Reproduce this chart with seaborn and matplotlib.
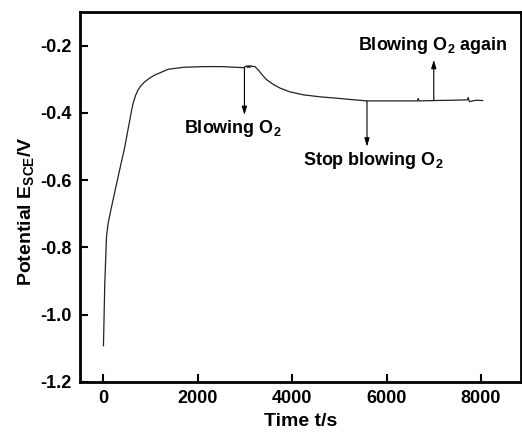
import matplotlib
matplotlib.use("Agg")
import matplotlib.pyplot as plt
import seaborn as sns
import pandas as pd

# ============================
# Open-circuit potential vs time
# ============================

time_s = [0, 28, 64, 98, 170, 310, 452, 558, 595, 629, 680, 735, 800, 877,
          980, 1089, 1372, 1700, 2115, 2500, 2964, 3020, 3040, 3060, 3080,
          3100, 3120, 3140, 3212, 3300, 3380, 3460, 3600, 3744, 3950, 4238,
          4600, 4947, 5250, 5584, 5900, 6294, 6660, 6673, 6686, 7002, 7400,
          7710, 7733, 7745, 7760, 7900, 8042]
potential = [-1.093, -0.908, -0.769, -0.729, -0.680, -0.590, -0.501, -0.421,
             -0.393, -0.371, -0.348, -0.331, -0.318, -0.307, -0.296, -0.287,
             -0.270, -0.264, -0.262, -0.262, -0.265, -0.262, -0.259, -0.265,
             -0.259, -0.265, -0.259, -0.261, -0.262, -0.275, -0.289, -0.301,
             -0.315, -0.326, -0.337, -0.346, -0.352, -0.356, -0.360, -0.364,
             -0.364, -0.364, -0.364, -0.357, -0.364, -0.363, -0.362, -0.361,
             -0.354, -0.362, -0.366, -0.362, -0.363]

ocp = pd.DataFrame({'Time': time_s, 'Potential': potential})

# ============================
# Plotting
# ============================

sns.set_style('ticks')
plt.rcParams['font.family'] = ['Liberation Sans', 'DejaVu Sans']
plt.rcParams['font.weight'] = 'bold'
plt.rcParams['text.color'] = 'black'
plt.rcParams['axes.labelcolor'] = 'black'
plt.rcParams['mathtext.fontset'] = 'custom'
plt.rcParams['mathtext.rm'] = 'Liberation Sans:bold'
plt.rcParams['mathtext.default'] = 'rm'

fig = plt.figure(figsize=(5.22, 4.34), dpi=100)
ax = fig.add_axes([0.153, 0.12, 0.845, 0.852])

sns.lineplot(data=ocp, x='Time', y='Potential', ax=ax,
             color='#222222', linewidth=0.9, estimator=None, sort=False)

ax.set_xlim(-500, 8850)
ax.set_ylim(-1.2, -0.1)
ax.set_xticks([0, 2000, 4000, 6000, 8000])
ax.set_yticks([-1.2, -1.0, -0.8, -0.6, -0.4, -0.2])
ax.set_yticklabels(['-1.2', '-1.0', '-0.8', '-0.6', '-0.4', '-0.2'])
ax.tick_params(direction='in', length=6, width=1.5, labelsize=13, pad=6,
               colors='black')
for lab in ax.get_xticklabels() + ax.get_yticklabels():
    lab.set_fontweight('bold')
for sp in ax.spines.values():
    sp.set_linewidth(2)
    sp.set_color('black')

ax.set_xlabel('Time t/s', fontsize=14, fontweight='bold', labelpad=4)
ax.set_ylabel('Potential E$_{SCE}$/V', fontsize=14, fontweight='bold')
ax.yaxis.set_label_coords(-0.1, 0.462)

arrow = dict(arrowstyle='-|>,head_length=0.5,head_width=0.15',
             color='black', lw=0.8, shrinkA=0, shrinkB=0)

ax.annotate('', xy=(2988, -0.406), xytext=(2988, -0.264), arrowprops=arrow)
ax.text(2745, -0.445, 'Blowing O$_2$', ha='center', va='center',
        fontsize=13, fontweight='bold')

ax.annotate('', xy=(5586, -0.50), xytext=(5586, -0.365), arrowprops=arrow)
ax.text(5722, -0.540, 'Stop blowing O$_2$', ha='center', va='center',
        fontsize=13, fontweight='bold')

ax.annotate('', xy=(7002, -0.242), xytext=(7002, -0.363), arrowprops=arrow)
ax.text(6985, -0.200, 'Blowing O$_2$ again', ha='center', va='center',
        fontsize=13, fontweight='bold')

plt.savefig('out.png', dpi=100)
